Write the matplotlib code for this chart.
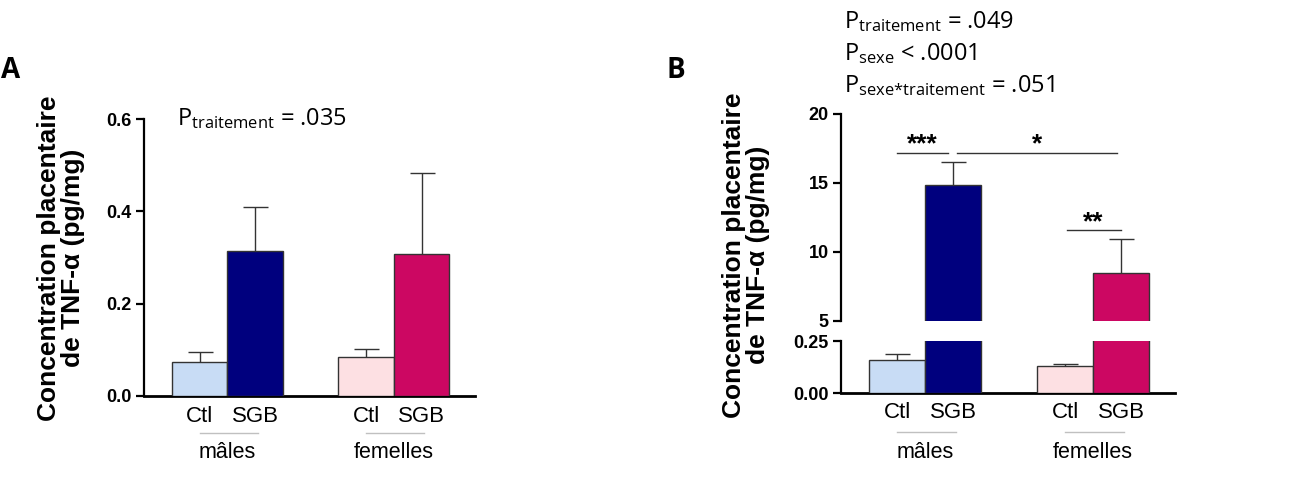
import matplotlib.pyplot as plt
import matplotlib.transforms as mtransforms
import numpy as np

plt.rcParams['font.family'] = ['Liberation Sans', 'DejaVu Sans']
plt.rcParams['mathtext.fontset'] = 'custom'
plt.rcParams['mathtext.rm'] = 'Open Sans'
plt.rcParams['mathtext.it'] = 'Open Sans'

# Data
groups = ['mâles', 'femelles']
conditions = ['Ctl', 'SGB', 'Ctl', 'SGB']
colors = ['#c8dcf5', '#00007e', '#fde0e3', '#cc0762']

tnf_a = [0.074, 0.314, 0.084, 0.307]
sem_a = [0.022, 0.096, 0.018, 0.177]

tnf_b = [0.159, 14.86, 0.132, 8.49]
sem_b = [0.027, 1.65, 0.006, 2.47]

W, H = 1312, 480
fig = plt.figure(figsize=(W / 100, H / 100), dpi=100)
x = np.array([0, 1, 3, 4])


def px(l, t, r, b):
    return [l / W, 1 - b / H, (r - l) / W, (b - t) / H]


def style(ax, bottom=True):
    for s in ['top', 'right']:
        ax.spines[s].set_visible(False)
    ax.spines['left'].set_linewidth(1.6)
    ax.spines['bottom'].set_linewidth(2)
    ax.spines['bottom'].set_visible(bottom)
    ax.tick_params(axis='y', length=6, width=1.6, labelsize=13, direction='out', pad=3)
    for lab in ax.get_yticklabels():
        lab.set_fontweight('bold')
    ax.set_xticks([])
    ax.set_xlim(-1.0, 4.96)


def bars(ax, vals, errs, idx):
    ax.bar(x, vals, width=1.0, color=colors, edgecolor='#333333', linewidth=1, zorder=3)
    ax.errorbar(x[idx], np.array(vals)[idx], yerr=np.array(errs)[idx], fmt='none',
                ecolor='#333333', elinewidth=1, capsize=9, capthick=1, zorder=2)


def xlabels(ax, y_cond, y_line, y_group):
    tr = mtransforms.blended_transform_factory(ax.transData, fig.transFigure)
    for xi, c in zip(x, conditions):
        ax.text(xi, 1 - y_cond / H, c, transform=tr, ha='center', va='center', fontsize=16)
    for gi, g in enumerate(groups):
        xs = x[2 * gi:2 * gi + 2]
        ax.plot([xs[0], xs[1] + 0.05], [1 - y_line / H] * 2, transform=tr, color='#c0c0c0',
                lw=1, clip_on=False)
        ax.text(xs.mean(), 1 - y_group / H, g, transform=tr, ha='center', va='center', fontsize=15.5)


# Panel A
axA = fig.add_axes(px(144, 119, 475, 396))
bars(axA, tnf_a, sem_a, [0, 1, 2, 3])
axA.set_ylim(0, 0.6)
axA.set_yticks([0.0, 0.2, 0.4, 0.6])
axA.set_yticklabels(['0.0', '0.2', '0.4', '0.6'])
style(axA)
xlabels(axA, 416, 433, 452)

fig.text(1 / W, 1 - 71 / H, 'A', ha='left', va='center', fontsize=20, fontweight='bold',
         family='Open Sans')
fig.text(61 / W, 1 - 258 / H, 'Concentration placentaire\nde TNF-α (pg/mg)', rotation=90,
         ha='center', va='center', fontsize=19, fontweight='bold', linespacing=1.05)
fig.text(177 / W, 1 - 125 / H, r'P$_{\mathrm{traitement}}$ = .035', va='baseline',
         fontsize=17, family='Open Sans')

# Panel B (broken axis)
axBh = fig.add_axes(px(841, 114, 1175, 321))
axBl = fig.add_axes(px(841, 341, 1175, 393))
bars(axBh, tnf_b, sem_b, [1, 3])
axBh.set_ylim(5, 20)
axBh.set_yticks([5, 10, 15, 20])
axBh.set_yticklabels(['5', '10', '15', '20'])
style(axBh, bottom=False)

bars(axBl, tnf_b, sem_b, [0, 2])
axBl.set_ylim(0, 0.25)
axBl.set_yticks([0.0, 0.25])
axBl.set_yticklabels(['0.00', '0.25'])
style(axBl)
xlabels(axBl, 413, 432, 452)

# significance brackets
axBh.plot([0, 0.91], [17.2, 17.2], color='#333333', lw=1, clip_on=False)
axBh.text(0.45, 16.9, '***', ha='center', va='bottom', fontsize=19, fontweight='bold')
axBh.plot([1.07, 3.93], [17.2, 17.2], color='#333333', lw=1, clip_on=False)
axBh.text(2.5, 16.9, '*', ha='center', va='bottom', fontsize=19, fontweight='bold')
axBh.plot([3.04, 4.0], [11.6, 11.6], color='#333333', lw=1, clip_on=False)
axBh.text(3.5, 11.3, '**', ha='center', va='bottom', fontsize=19, fontweight='bold')

fig.text(685 / W, 1 - 70 / H, 'B', ha='right', va='center', fontsize=20, fontweight='bold',
         family='Open Sans')
fig.text(746 / W, 1 - 255 / H, 'Concentration placentaire\nde TNF-α (pg/mg)', rotation=90,
         ha='center', va='center', fontsize=19, fontweight='bold', linespacing=1.05)
fig.text(844 / W, 1 - 28 / H, r'P$_{\mathrm{traitement}}$ = .049', va='baseline',
         fontsize=17, family='Open Sans')
fig.text(844 / W, 1 - 60 / H, r'P$_{\mathrm{sexe}}$ < .0001', va='baseline',
         fontsize=17, family='Open Sans')
fig.text(844 / W, 1 - 92 / H, r'P$_{\mathrm{sexe{*}traitement}}$ = .051', va='baseline',
         fontsize=17, family='Open Sans')

fig.savefig('out.png', dpi=100)
